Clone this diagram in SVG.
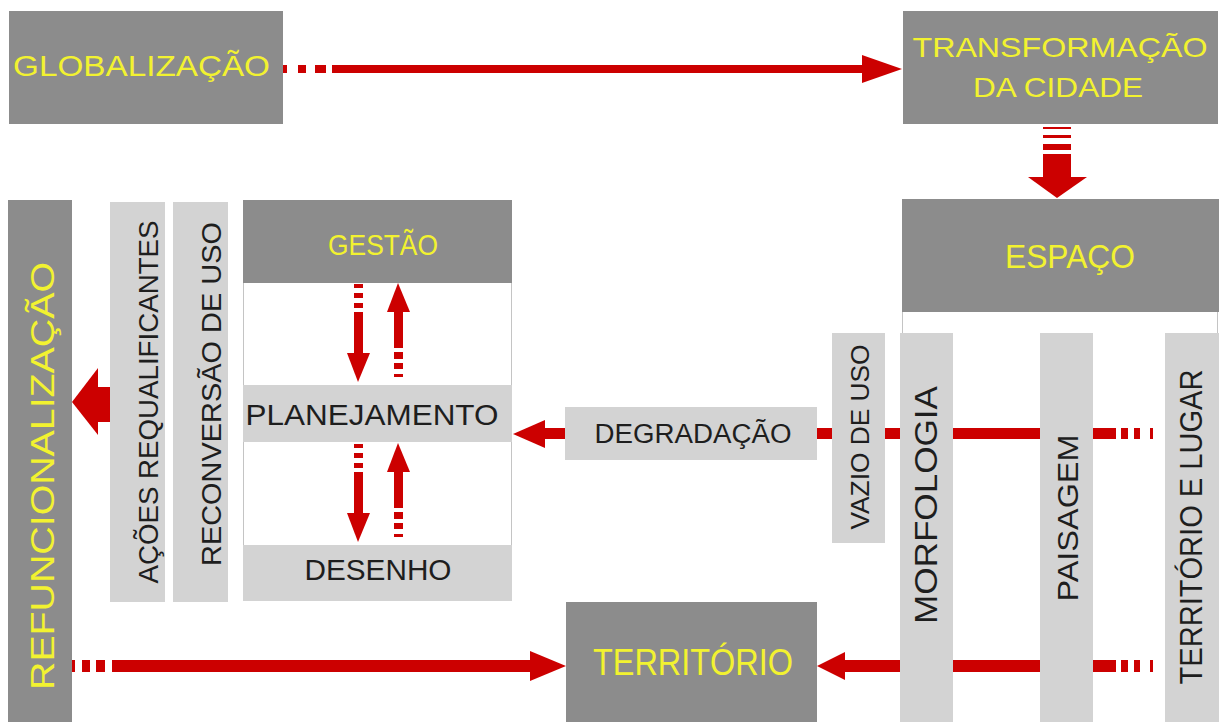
<svg xmlns="http://www.w3.org/2000/svg" width="1219" height="722" viewBox="0 0 1219 722">
<style>
.dk{fill:#8c8c8c}
.lt{fill:#d3d3d3}
.r{fill:#cc0000}
.ol{fill:#ffffff;stroke:#c4c4c4;stroke-width:1}
.y{fill:#f2f230;font-family:"Liberation Sans",Arial,sans-serif;text-anchor:middle}
.k{fill:#1e1e1e;font-family:"Liberation Sans",Arial,sans-serif;text-anchor:middle}
</style>
<rect width="1219" height="722" fill="#ffffff"/>

<g id="globalizacao">
<rect class="dk" x="9" y="11" width="274" height="113"/>
<text class="y" x="141.5" y="76" font-size="30" textLength="257" lengthAdjust="spacingAndGlyphs">GLOBALIZAÇÃO</text>
</g>

<g id="transformacao">
<rect class="dk" x="903" y="11" width="315" height="113"/>
<text class="y" x="1060" y="57" font-size="28" textLength="295" lengthAdjust="spacingAndGlyphs">TRANSFORMAÇÃO</text>
<text class="y" x="1058" y="97" font-size="28" textLength="170" lengthAdjust="spacingAndGlyphs">DA CIDADE</text>
</g>

<g id="espaco">
<path d="M902.5,312 V333 M1217.5,312 V333" stroke="#c4c4c4" stroke-width="1" fill="none"/>
<rect class="dk" x="902" y="199" width="317" height="113"/>
<text class="y" x="1070" y="268" font-size="33" textLength="130" lengthAdjust="spacingAndGlyphs">ESPAÇO</text>
</g>

<g id="refuncionalizacao">
<rect class="dk" x="8" y="200" width="64" height="522"/>
<text class="y" transform="translate(54,476) rotate(-90)" font-size="34" textLength="428" lengthAdjust="spacingAndGlyphs">REFUNCIONALIZAÇÃO</text>
</g>

<g id="acoes">
<rect class="lt" x="110" y="202" width="55" height="400"/>
<text class="k" transform="translate(158,402) rotate(-90)" font-size="27" textLength="363" lengthAdjust="spacingAndGlyphs">AÇÕES REQUALIFICANTES</text>
</g>

<g id="reconversao">
<rect class="lt" x="173" y="202" width="55" height="400"/>
<text class="k" transform="translate(221,394) rotate(-90)" font-size="28" textLength="344" lengthAdjust="spacingAndGlyphs">RECONVERSÃO DE USO</text>
</g>

<g id="gestao-bloco">
<rect class="ol" x="243.5" y="200.5" width="268" height="400"/>
</g>
<g id="gestao">
<rect class="dk" x="243" y="200" width="269" height="83"/>
<text class="y" x="383" y="255" font-size="30" textLength="110" lengthAdjust="spacingAndGlyphs">GESTÃO</text>
</g>
<g id="planejamento">
<rect class="lt" x="243" y="385" width="269" height="57"/>
<text class="k" x="372" y="425" font-size="29" textLength="253" lengthAdjust="spacingAndGlyphs">PLANEJAMENTO</text>
</g>
<g id="desenho">
<rect class="lt" x="243" y="545" width="269" height="56"/>
<text class="k" x="378" y="580" font-size="29" textLength="147" lengthAdjust="spacingAndGlyphs">DESENHO</text>
</g>

<g id="degradacao">
<rect class="lt" x="565" y="407" width="252" height="53"/>
<text class="k" x="693" y="443" font-size="27" textLength="197" lengthAdjust="spacingAndGlyphs">DEGRADAÇÃO</text>
</g>

<g id="vazio">
<rect class="lt" x="832" y="333" width="53" height="210"/>
<text class="k" transform="translate(869,437) rotate(-90)" font-size="25" textLength="185" lengthAdjust="spacingAndGlyphs">VAZIO DE USO</text>
</g>

<g id="morfologia">
<rect class="lt" x="900" y="333" width="53" height="389"/>
<text class="k" transform="translate(937,505) rotate(-90)" font-size="31" textLength="238" lengthAdjust="spacingAndGlyphs">MORFOLOGIA</text>
</g>

<g id="paisagem">
<rect class="lt" x="1040" y="333" width="53" height="389"/>
<text class="k" transform="translate(1078,518) rotate(-90)" font-size="30" textLength="167" lengthAdjust="spacingAndGlyphs">PAISAGEM</text>
</g>

<g id="territorio-lugar">
<rect class="lt" x="1165" y="333" width="54" height="389"/>
<text class="k" transform="translate(1202,527) rotate(-90)" font-size="31" textLength="315" lengthAdjust="spacingAndGlyphs">TERRITÓRIO E LUGAR</text>
</g>

<g id="territorio">
<rect class="dk" x="566" y="602" width="251" height="120"/>
<text class="y" x="693" y="675" font-size="37" textLength="200" lengthAdjust="spacingAndGlyphs">TERRITÓRIO</text>
</g>

<g id="connectors">
<!-- Globalização -> Transformação -->
<rect class="r" x="283" y="65" width="4" height="8"/>
<rect class="r" x="298" y="65" width="8" height="8"/>
<rect class="r" x="315" y="65" width="11" height="8"/>
<rect class="r" x="332" y="65" width="532" height="8"/>
<polygon class="r" points="862,55 902,69 862,83"/>

<!-- Transformação -> Espaço -->
<rect class="r" x="1043" y="127" width="28" height="2"/>
<rect class="r" x="1043" y="135" width="28" height="3"/>
<rect class="r" x="1043" y="144" width="28" height="6"/>
<rect class="r" x="1043" y="154" width="28" height="24"/>
<polygon class="r" points="1028,177 1087,177 1057,198"/>

<!-- Espaço -> Refuncionalização (big left arrow) -->
<rect class="r" x="96" y="387" width="14" height="35"/>
<polygon class="r" points="98,368 98,435 72,402"/>

<!-- Degradação row -->
<rect class="r" x="1150" y="428" width="3" height="11"/>
<rect class="r" x="1134" y="428" width="6" height="11"/>
<rect class="r" x="1121" y="428" width="7" height="11"/>
<rect class="r" x="1093" y="428" width="23" height="11"/>
<rect class="r" x="953" y="428" width="87" height="11"/>
<rect class="r" x="885" y="428" width="15" height="11"/>
<rect class="r" x="817" y="428" width="15" height="11"/>
<rect class="r" x="543" y="428" width="22" height="11"/>
<polygon class="r" points="545,420 545,448 513,434"/>

<!-- Bottom right: -> Território -->
<rect class="r" x="1150" y="660" width="3" height="12"/>
<rect class="r" x="1134" y="660" width="6" height="12"/>
<rect class="r" x="1121" y="660" width="7" height="12"/>
<rect class="r" x="1093" y="660" width="23" height="12"/>
<rect class="r" x="953" y="660" width="87" height="12"/>
<rect class="r" x="843" y="660" width="57" height="12"/>
<polygon class="r" points="845,652 845,680 817,666"/>

<!-- Bottom left: Refuncionalização -> Território -->
<rect class="r" x="72" y="660" width="3" height="12"/>
<rect class="r" x="82" y="660" width="8" height="12"/>
<rect class="r" x="96" y="660" width="9" height="12"/>
<rect class="r" x="112" y="660" width="420" height="12"/>
<polygon class="r" points="530,651 566,666 530,681"/>

<!-- Gestão -> Planejamento (down) -->
<rect class="r" x="354" y="284" width="9" height="4"/>
<rect class="r" x="354" y="293" width="9" height="5"/>
<rect class="r" x="354" y="303" width="9" height="5"/>
<rect class="r" x="354" y="312" width="9" height="43"/>
<polygon class="r" points="347,353 370,353 358,382"/>
<!-- Planejamento -> Gestão (up) -->
<polygon class="r" points="387,312 410,312 398,283"/>
<rect class="r" x="394" y="310" width="9" height="38"/>
<rect class="r" x="394" y="352" width="9" height="7"/>
<rect class="r" x="394" y="363" width="9" height="6"/>
<rect class="r" x="394" y="374" width="9" height="3"/>

<!-- Planejamento -> Desenho (down) -->
<rect class="r" x="354" y="444" width="9" height="4"/>
<rect class="r" x="354" y="453" width="9" height="5"/>
<rect class="r" x="354" y="463" width="9" height="5"/>
<rect class="r" x="354" y="472" width="9" height="43"/>
<polygon class="r" points="347,513 370,513 358,542"/>
<!-- Desenho -> Planejamento (up) -->
<polygon class="r" points="387,472 410,472 398,443"/>
<rect class="r" x="394" y="470" width="9" height="38"/>
<rect class="r" x="394" y="512" width="9" height="7"/>
<rect class="r" x="394" y="523" width="9" height="6"/>
<rect class="r" x="394" y="534" width="9" height="3"/>
</g>
</svg>
